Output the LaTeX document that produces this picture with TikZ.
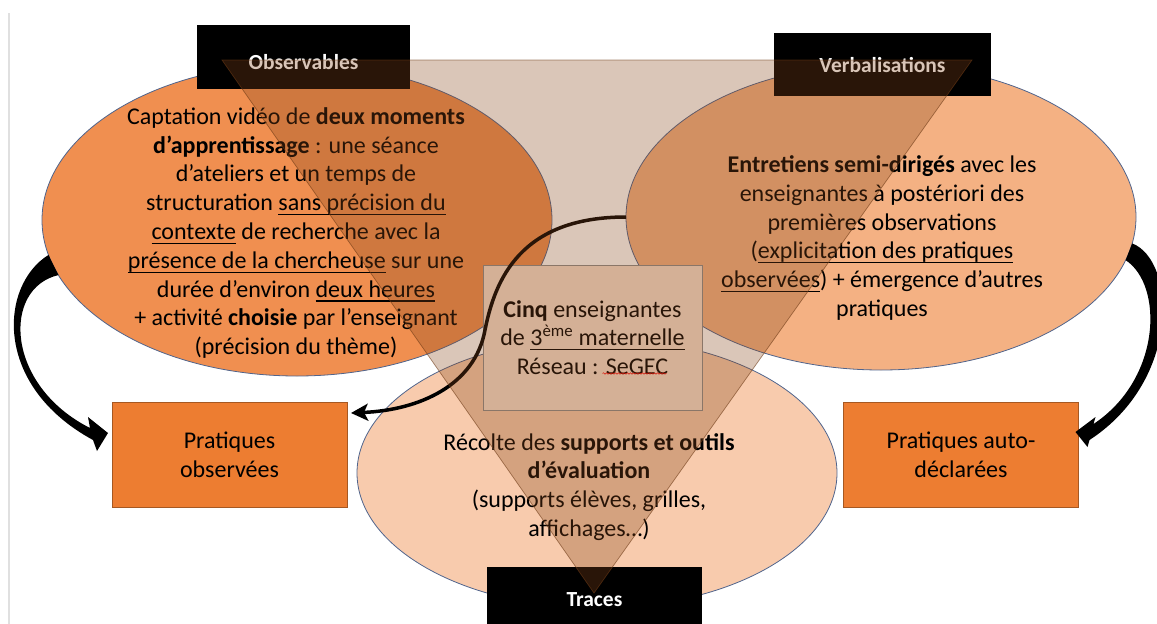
\documentclass[tikz,border=0pt]{standalone}
\usepackage{fontspec}
\setmainfont{Carlito}
\usetikzlibrary{shapes.geometric,arrows.meta,calc,decorations.pathmorphing}
\newcommand{\souligne}[1]{\setbox0\hbox{#1}\rlap{\rule[-4.5pt]{\wd0}{1.2pt}}\box0\relax}
\definecolor{orangeA}{RGB}{240,143,80}
\definecolor{orangeB}{RGB}{244,177,131}
\definecolor{orangeC}{RGB}{248,203,173}
\definecolor{orangeD}{RGB}{237,125,49}
\definecolor{edgeblue}{RGB}{80,100,140}
\definecolor{boxtan}{RGB}{247,224,207}
\definecolor{tribrown}{RGB}{135,71,26}
\tikzset{
  zone/.style={ellipse, draw=edgeblue, line width=0.8pt, inner sep=0pt, outer sep=0pt},
  corps/.style={align=center, inner sep=0pt, font=\fontsize{24}{28.8}\selectfont},
  tagbox/.style={fill=black, inner sep=0pt, outer sep=0pt},
  tagtext/.style={text=white, inner sep=0pt, font=\bfseries\fontsize{21.5}{24}\selectfont},
  pratique/.style={draw=orangeD!70!black, fill=orangeD, line width=0.8pt, minimum width=235pt, minimum height=105pt, outer sep=0pt, align=center, font=\fontsize{24}{28.8}\selectfont},
  bigarrow/.style={fill=black},
  curvearrow/.style={line width=3.5pt, -{Stealth[length=17pt,width=17pt,inset=4pt]}}
}
\begin{document}
\begin{tikzpicture}[x=1pt,y=-1pt]
\clip (0,0) rectangle (1157,624);
\useasboundingbox (0,0) rectangle (1157,624);
\draw[black!12, line width=1.5pt] (9,13) -- (9,624);
\node[zone, fill=orangeA, minimum width=510pt, minimum height=312pt] (obs) at (297,220) {};
\node[zone, fill=orangeB, minimum width=510pt, minimum height=306pt] (verb) at (881,217) {};
\node[zone, fill=orangeC, minimum width=480pt, minimum height=270pt] (trac) at (597,473) {};
\node[corps] (obstxt) at (296,233) {Captation vidéo de \textbf{deux moments}\\
  \textbf{d’apprentissage} : une séance\\
  d’ateliers et un temps de\\
  structuration \souligne{sans précision du}\\
  \souligne{contexte} de recherche avec la\\
  \souligne{présence de la chercheuse} sur une\\
  durée d’environ \souligne{deux heures}\\
  + activité \textbf{choisie} par l’enseignant\\
  (précision du thème)};
\node[corps] (verbtxt) at (882,238) {\textbf{Entretiens semi-dirigés} avec les\\
  enseignantes à postériori des\\
  premières observations\\
  (\souligne{explicitation des pratiques}\\
  \souligne{observées}) + émergence d’autres\\
  pratiques};
\node[corps] (tractxt) at (589,487) {Récolte des \textbf{supports et outils}\\
  \textbf{d’évaluation}\\
  (supports élèves, grilles,\\
  affichages…)};
\node[draw=black!45, fill=boxtan, line width=0.8pt, minimum width=219pt, minimum height=145pt, outer sep=0pt, corps] (cinq) at (592.5,337.5)
  {\textbf{Cinq} enseignantes\\ de \souligne{3\textsuperscript{ème} maternelle}\\ Réseau : SeGEC};
\draw[red, line width=0.5pt, decorate, decoration={snake, amplitude=0.8pt, segment length=3pt}]
  ($(cinq.center)+(10,36)$) -- ($(cinq.center)+(74,36)$);
\node[pratique] (pobs) at (229.5,454.5) {Pratiques\\ observées};
\node[pratique] (pauto) at (961,455) {Pratiques auto-\\ déclarées};
\fill[bigarrow] (obs.188) .. controls +(-48.5,30) and +(-101,-55) .. ($(pobs.west)+(-19,-14.5)$)
  -- ($(pobs.west)+(-15,-3.5)$) -- ($(pobs.west)+(-4,-21.5)$) -- ($(pobs.west)+(-24,-37.5)$)
  -- ($(pobs.west)+(-22,-26.5)$) .. controls +(-85,-43) and +(-56.4,13) .. (obs.193) -- cycle;
\fill[bigarrow] (verb.354) .. controls +(44,17) and +(92,-60) .. ($(pauto.east)+(11,-15)$)
  -- ($(pauto.east)+(9,-8)$) -- ($(pauto.east)+(-3,-23)$) -- ($(pauto.east)+(17,-38)$)
  -- ($(pauto.east)+(15,-31)$) .. controls +(68,-45) and +(38,25) .. (verb.350) -- cycle;
\draw[curvearrow] (verb.west) .. controls (520,217) and (495,280) .. (485,330)
  .. controls (475,385) and (420,410) .. ($(pobs.north east)+(4,11)$);
\node[tagbox, minimum width=213pt, minimum height=64pt] (tobs) at (303.5,57) {};
\node[tagtext] at ($(tobs.center)+(0,5)$) {Observables};
\node[tagbox, minimum width=217pt, minimum height=63pt] (tverb) at (882.5,64.5) {};
\node[tagtext] at ($(tverb.center)+(0,1)$) {Verbalisations};
\node[tagbox, minimum width=215pt, minimum height=65pt] (ttrac) at (594.5,599.5) {};
\node[tagtext] at (ttrac.center) {Traces};
\filldraw[fill=tribrown, fill opacity=0.31, draw=tribrown!80!black, draw opacity=0.6, line width=0.7pt]
  (222,60) -- (972,60) -- (594,593) -- cycle;
\end{tikzpicture}
\end{document}
